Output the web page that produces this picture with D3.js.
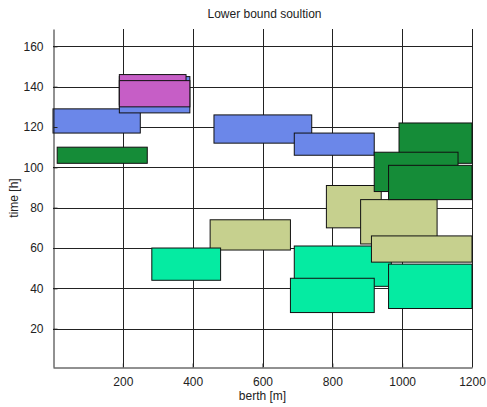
<!DOCTYPE html>
<html>
<head>
<meta charset="utf-8">
<script src="https://cdn.jsdelivr.net/npm/d3@7"></script>
<style>
  body { margin: 0; background: #fff; }
  svg { font-family: "Liberation Sans", Arial, sans-serif; }
</style>
</head>
<body>
<div id="chart"></div>
<script>
// berth blocks: [x0, x1, t0, t1, group]  (drawn in this order)
var blockX0 = [0, 12, 190, 190, 190, 461, 691, 783, 881, 691, 912, 450, 283, 680, 961, 991, 920, 961];
var blockX1 = [250, 270, 392, 381, 392, 741, 920, 940, 1100, 969, 1200, 680, 480, 920, 1200, 1200, 1160, 1200];
var blockT0 = [117, 102, 127, 131, 130, 112, 106, 70, 62, 41, 53, 59, 44, 28, 30, 102, 88, 84];
var blockT1 = [129, 110, 145, 146, 143, 126, 117, 91, 84, 61, 66, 74, 60, 45, 52, 122, 107.5, 101];
var blockGroup = ["blue", "green", "blue", "magenta", "magenta", "blue", "blue", "khaki", "khaki", "teal", "khaki", "khaki", "teal", "teal", "teal", "green", "green", "green"];

var groupColor = {
    blue: "#6b87e9",
    magenta: "#c65ec6",
    green: "#158c38",
    khaki: "#c6d08e",
    teal: "#05eba2"
};

var xTicks = [200, 400, 600, 800, 1000, 1200];
var yTicks = [20, 40, 60, 80, 100, 120, 140, 160];

var width = 487, height = 407;
var margin = {left: 53, right: 15, top: 29, bottom: 40};

var svg = d3.select("#chart").append("svg")
    .attr("width", width)
    .attr("height", height);

var x = d3.scaleLinear().domain([0, 1200]).range([margin.left, width - margin.right]);
var y = d3.scaleLinear().domain([1, 168.6]).range([height - margin.bottom, margin.top]);

var grid = svg.append("g").attr("stroke", "#222").attr("stroke-width", 1);
xTicks.forEach(t => {
    grid.append("line")
        .attr("x1", Math.round(x(t)) + 0.5).attr("x2", Math.round(x(t)) + 0.5)
        .attr("y1", y.range()[0]).attr("y2", y.range()[1]);
});
yTicks.forEach(t => {
    grid.append("line")
        .attr("x1", x.range()[0]).attr("x2", x.range()[1])
        .attr("y1", Math.round(y(t)) + 0.5).attr("y2", Math.round(y(t)) + 0.5);
});

var blocks = blockX0.map((d, i) => ({x0: d, x1: blockX1[i], t0: blockT0[i], t1: blockT1[i], g: blockGroup[i]}));

svg.append("g").selectAll("rect")
    .data(blocks)
    .enter().append("rect")
    .attr("x", d => x(d.x0))
    .attr("y", d => y(d.t1))
    .attr("width", d => x(d.x1) - x(d.x0))
    .attr("height", d => y(d.t0) - y(d.t1))
    .attr("fill", d => groupColor[d.g])
    .attr("stroke", "#111")
    .attr("stroke-width", 1);

var xAxis = svg.append("g")
    .attr("transform", "translate(0," + (y.range()[0] + 0.5) + ")")
    .call(d3.axisBottom(x).tickValues(xTicks).tickFormat(d3.format("d"))
        .tickSize(-4).tickPadding(10).tickSizeOuter(0));
var yAxis = svg.append("g")
    .attr("transform", "translate(" + (x.range()[0] + 0.5) + ",0)")
    .call(d3.axisLeft(y).tickValues(yTicks).tickFormat(d3.format("d"))
        .tickSize(-4).tickPadding(10).tickSizeOuter(0));

[xAxis, yAxis].forEach(a => {
    a.select(".domain").attr("stroke", "#222");
    a.selectAll(".tick line").attr("stroke", "#222");
    a.selectAll(".tick text").attr("font-size", 12).attr("fill", "#222")
        .attr("font-family", "'Liberation Sans', Arial, sans-serif");
});

svg.append("text")
    .attr("x", (x.range()[0] + x.range()[1]) / 2 + 2)
    .attr("y", 18)
    .attr("text-anchor", "middle")
    .attr("font-size", 12)
    .attr("fill", "#222")
    .text("Lower bound soultion");

svg.append("text")
    .attr("x", (x.range()[0] + x.range()[1]) / 2)
    .attr("y", 400)
    .attr("text-anchor", "middle")
    .attr("font-size", 12)
    .attr("fill", "#222")
    .text("berth [m]");

svg.append("text")
    .attr("transform", "translate(18," + ((y.range()[0] + y.range()[1]) / 2) + ") rotate(-90)")
    .attr("text-anchor", "middle")
    .attr("font-size", 12)
    .attr("fill", "#222")
    .text("time [h]");
</script>
</body>
</html>
